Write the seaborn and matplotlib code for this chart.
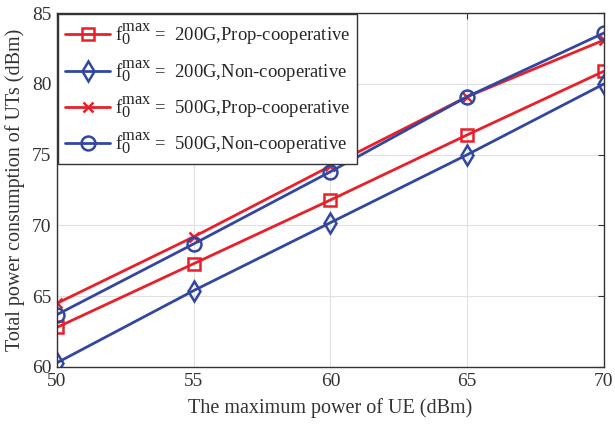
import pandas as pd
import matplotlib.pyplot as plt
import matplotlib._mathtext as mt
import seaborn as sns

# UE max power (dBm)
p_max = [50, 55, 60, 65, 70]

# total power consumption of UTs (dBm)
prop_200 = [62.8, 67.3, 71.8, 76.4, 80.9]
non_200 = [60.3, 65.4, 70.2, 75.0, 80.0]
prop_500 = [64.5, 69.2, 74.2, 79.1, 83.1]
non_500 = [63.7, 68.7, 73.8, 79.1, 83.6]

labels = [
    r"$\mathrm{f}_0^{\mathrm{max}}$ =  200G,Prop-cooperative",
    r"$\mathrm{f}_0^{\mathrm{max}}$ =  200G,Non-cooperative",
    r"$\mathrm{f}_0^{\mathrm{max}}$ =  500G,Prop-cooperative",
    r"$\mathrm{f}_0^{\mathrm{max}}$ =  500G,Non-cooperative",
]

# MATLAB-style sub/superscripts are nearly full size
mt.SHRINK_FACTOR = 0.88

sns.set_style("whitegrid")
plt.rcParams["font.family"] = ["Liberation Serif", "DejaVu Serif"]
plt.rcParams["mathtext.fontset"] = "custom"
plt.rcParams["mathtext.rm"] = "Liberation Serif"
plt.rcParams["mathtext.it"] = "Liberation Serif:italic"

red = "#E8202A"
blue = "#3346A0"

fig = plt.figure(figsize=(6.15, 4.25), dpi=100)
ax = fig.add_axes([0.0927, 0.1365, 0.8893, 0.8325])

series = [prop_200, non_200, prop_500, non_500]
colors = [red, blue, red, blue]
markers = ["s", "d", "x", "o"]
msizes = [8, 10, 7, 10]

for vals, c, m, ms, lab in zip(series, colors, markers, msizes, labels):
    df = pd.DataFrame({"p": p_max, "v": vals})
    sns.lineplot(data=df, x="p", y="v", ax=ax, color=c, marker=m,
                 markersize=ms, markerfacecolor="none", markeredgecolor=c,
                 markeredgewidth=1.8, linewidth=2, label=lab)

ax.set_xlim(50, 70)
ax.set_ylim(60, 85)
ax.set_xticks([50, 55, 60, 65, 70])
ax.set_yticks([60, 65, 70, 75, 80, 85])
ax.set_xlabel("The maximum power of UE (dBm)", fontsize=14.5, labelpad=6)
ax.set_ylabel("Total power consumption of UTs (dBm)", fontsize=14.5, labelpad=5)
ax.tick_params(axis="both", labelsize=14, direction="in", length=4,
               top=True, right=True, color="#333333", pad=4,
               labelcolor="#333333")
ax.xaxis.label.set_color("#333333")
ax.yaxis.label.set_color("#333333")
ax.grid(True, color="#e0e0e0", linewidth=0.8)
for s in ax.spines.values():
    s.set_color("#333333")
    s.set_linewidth(1.0)

leg = ax.legend(loc="upper left", fontsize=13.4, frameon=True, fancybox=False,
                edgecolor="#333333", handlelength=2.4, borderaxespad=0.05,
                labelspacing=0.56, borderpad=0.4, handletextpad=0.25)
leg.get_frame().set_linewidth(1.0)
leg.get_frame().set_alpha(1)

fig.savefig("out.png", dpi=100)
